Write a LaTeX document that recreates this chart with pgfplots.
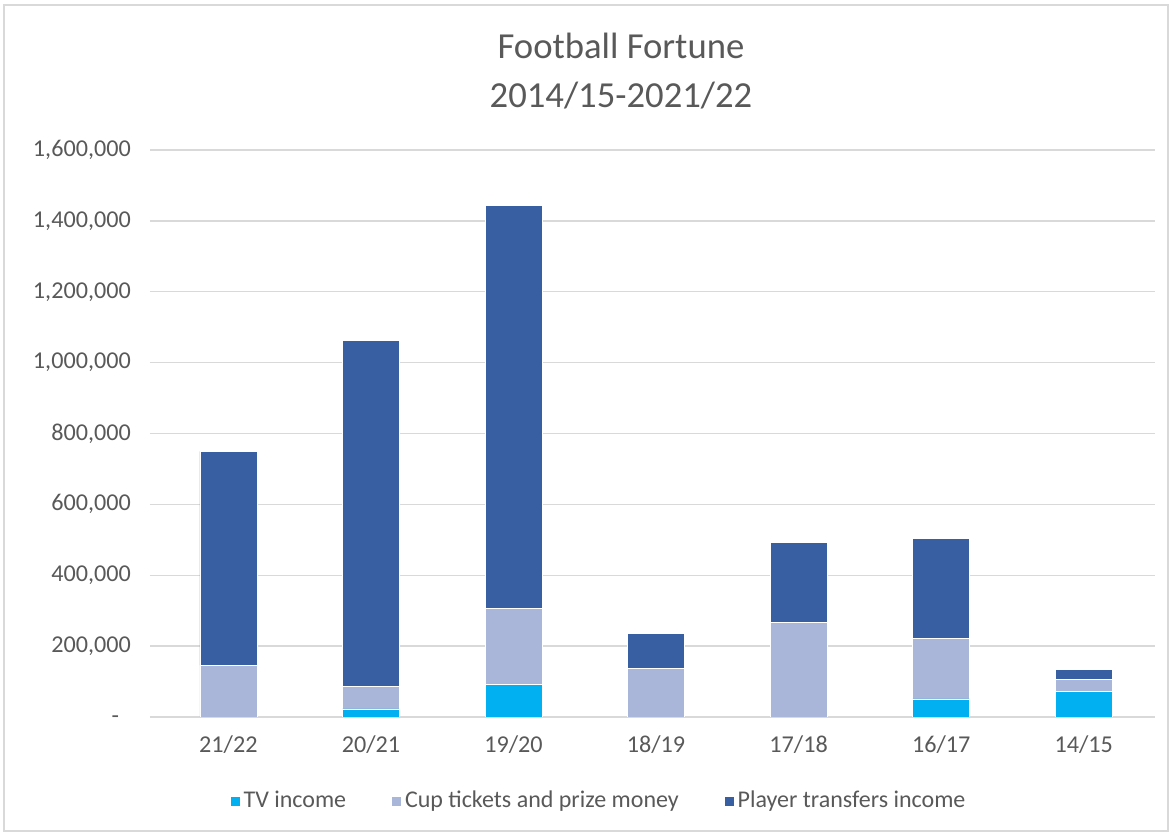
\documentclass[border=0pt]{standalone}
\usepackage{pgfplots}
\pgfplotsset{compat=1.18}
\usepackage{fontspec}
\setmainfont{Carlito}
\definecolor{tvc}{HTML}{00B0F0}
\definecolor{cupc}{HTML}{A9B6DA}
\definecolor{plc}{HTML}{375FA2}
\definecolor{txt}{HTML}{595959}
\definecolor{gridc}{HTML}{D9D9D9}
\begin{document}
\begin{tikzpicture}
\useasboundingbox (0,0) rectangle (702.6pt,500.4pt);
\draw[gridc, line width=0.8pt] (2.4pt,1.8pt) rectangle (700.8pt,497.4pt);
\node[align=center, text=txt, font=\fontsize{22pt}{29pt}\selectfont] at (372.6pt,457.8pt) {Football Fortune\\2014/15-2021/22};
\begin{axis}[
  at={(90pt,70.2pt)}, anchor=south west,
  width=603pt, height=340.2pt, scale only axis,
  ybar stacked, bar width=34.2pt,
  xmin=-0.55, xmax=6.5, ymin=0, ymax=1600000,
  scaled y ticks=false,
  xtick={0,1,2,3,4,5,6},
  xticklabels={21/22,20/21,19/20,18/19,17/18,16/17,14/15},
  ytick={200000,400000,600000,800000,1000000,1200000,1400000,1600000},
  yticklabels={{200,000},{400,000},{600,000},{800,000},{1,000,000},{1,200,000},{1,400,000},{1,600,000}},
  extra y ticks={0},
  extra y tick labels={-},
  extra y tick style={yticklabel style={xshift=-7pt, yshift=-1.5pt}},
  major tick length=0pt,
  axis line style={draw=none},
  ymajorgrids, grid style={gridc, line width=0.8pt},
  tick label style={text=txt, font=\fontsize{14.5pt}{17pt}\selectfont},
  yticklabel style={xshift=-8pt},
  xticklabel style={yshift=-8pt},
  legend columns=3,
  legend style={at={(0.447,-0.148)}, anchor=center, draw=none, fill=none,
    font=\fontsize{14.4pt}{17pt}\selectfont, text=txt,
    /tikz/every even column/.append style={column sep=25pt}},
  legend image code/.code={\fill[#1] (0pt,-3pt) rectangle (6pt,3pt);},
  every axis plot/.append style={draw=white, line width=0.3pt},
]
\addplot[fill=tvc] coordinates {(0,0) (1,22600) (2,93000) (3,0) (4,0) (5,50800) (6,73300)};
\addplot[fill=cupc] coordinates {(0,145800) (1,64800) (2,214500) (3,138000) (4,268000) (5,170100) (6,33800)};
\addplot[fill=plc] coordinates {(0,603700) (1,975600) (2,1136500) (3,99000) (4,223700) (5,284100) (6,26400)};
\legend{TV income, Cup tickets and prize money, Player transfers income}
\end{axis}
\end{tikzpicture}
\end{document}
